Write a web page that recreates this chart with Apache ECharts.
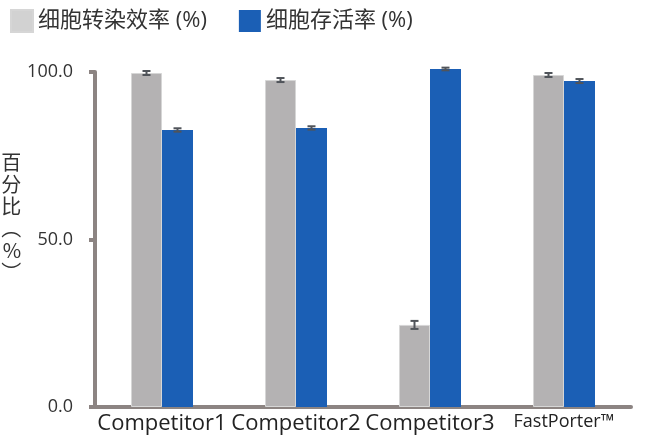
<!DOCTYPE html>
<html>
<head>
<meta charset="utf-8">
<script src="https://cdn.jsdelivr.net/npm/echarts@6/dist/echarts.min.js"></script>
<style>
  html, body { margin: 0; padding: 0; background: #fff; }
  #chart { width: 648px; height: 440px; }
</style>
</head>
<body>
<div id="chart"></div>
<script>
// data
const categories = ['Competitor1', 'Competitor2', 'Competitor3', 'FastPorter™']
const transfection = [99.7, 97.6, 24.5, 99.1]
const transfectionErr = [0.6, 0.6, 1.2, 0.6]
const viability = [82.7, 83.3, 100.9, 97.3]
const viabilityErr = [0.5, 0.5, 0.4, 0.6]
const yTicks = [0, 50, 100]

const BAR_W = 31
const FONT = '"Open Sans", "Noto Sans CJK SC", sans-serif'

// error bar drawn next to its bar: offset is -1 for left bar, +1 for right bar
function errorSeries (values, errs, side) {
  return {
    type: 'custom',
    clip: false,
    z: 10,
    silent: true,
    data: values.map((v, i) => [i, v - errs[i], v + errs[i]]),
    renderItem: (params, api) => {
      const lo = api.coord([api.value(0), api.value(1)])
      const hi = api.coord([api.value(0), api.value(2)])
      const x = lo[0] + side * BAR_W / 2
      const cap = 4
      const style = { stroke: '#50545a', lineWidth: 2 }
      return {
        type: 'group',
        children: [
          { type: 'line', shape: { x1: x, y1: lo[1], x2: x, y2: hi[1] }, style },
          { type: 'line', shape: { x1: x - cap, y1: lo[1], x2: x + cap, y2: lo[1] }, style },
          { type: 'line', shape: { x1: x - cap, y1: hi[1], x2: x + cap, y2: hi[1] }, style }
        ]
      }
    }
  }
}

const chart = echarts.init(document.getElementById('chart'))
chart.setOption({
  animation: false,
  textStyle: { fontFamily: FONT },
  legend: {
    left: 5,
    top: 4,
    icon: 'rect',
    itemWidth: 22,
    itemHeight: 22,
    itemGap: 32,
    textStyle: { fontSize: 22, color: '#333', fontFamily: FONT },
    data: [
      { name: '细胞转染效率 (%)', itemStyle: { color: '#d2d2d2' } },
      { name: '细胞存活率 (%)', itemStyle: { color: '#1b5fb5' } }
    ]
  },
  grid: { left: 95, right: 17, top: 72, bottom: 33, outerBoundsMode: 'none' },
  xAxis: {
    type: 'category',
    data: categories,
    axisLine: { lineStyle: { color: '#8c8482', width: 4 } },
    axisTick: { show: false },
    axisLabel: {
      margin: 6,
      interval: 0,
      fontSize: 22,
      color: '#222',
      formatter: v => v === 'FastPorter™' ? '{s|' + v + '}' : v,
      rich: { s: { fontSize: 18, color: '#222', fontFamily: FONT } }
    }
  },
  yAxis: {
    type: 'value',
    min: 0,
    max: 100,
    interval: 50,
    // two trailing blank lines lift the stacked name above the axis middle
    name: '百\n分\n比\n︵\n%\n︶\n\n',
    nameLocation: 'middle',
    nameRotate: 0,
    nameGap: 73,
    nameTextStyle: {
      fontSize: 20,
      color: '#333',
      lineHeight: 22,
      fontFamily: '"Noto Sans CJK SC", sans-serif'
    },
    axisLine: { show: true, lineStyle: { color: '#8c8482', width: 4 } },
    axisTick: { show: true, length: 6, lineStyle: { color: '#8c8482', width: 4 } },
    splitLine: { show: false },
    axisLabel: {
      margin: 22,
      fontSize: 18,
      color: '#333',
      formatter: v => yTicks.includes(v) ? v.toFixed(1) : ''
    }
  },
  series: [
    {
      name: '细胞转染效率 (%)',
      type: 'bar',
      clip: false,
      barWidth: BAR_W,
      barGap: '0%',
      data: transfection,
      itemStyle: { color: '#b4b2b3', borderColor: '#d6d6d6', borderWidth: 1 }
    },
    {
      name: '细胞存活率 (%)',
      type: 'bar',
      clip: false,
      barWidth: BAR_W,
      barGap: '0%',
      data: viability,
      itemStyle: { color: '#1b5fb5' }
    },
    errorSeries(transfection, transfectionErr, -1),
    errorSeries(viability, viabilityErr, 1)
  ]
})
</script>
</body>
</html>
